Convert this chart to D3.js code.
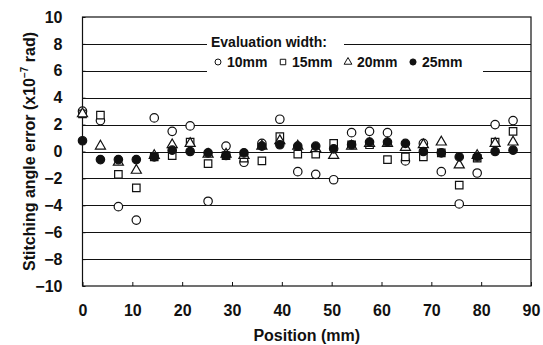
<!DOCTYPE html>
<html>
<head>
<meta charset="utf-8">
<script src="https://cdn.jsdelivr.net/npm/d3@7"></script>
<style>
  html, body { margin: 0; padding: 0; background: #fff; }
  svg { display: block; font-family: 'Liberation Sans', Arial, sans-serif; }
</style>
</head>
<body>
<svg id="chart" width="543" height="345"></svg>
<script>
// measurement positions (mm)
const positions = [0, 3.6, 7.2, 10.8, 14.4, 18, 21.6, 25.2, 28.8, 32.4, 36, 39.6, 43.2,
  46.8, 50.4, 54, 57.6, 61.2, 64.8, 68.4, 72, 75.6, 79.2, 82.8, 86.4];

// stitching angle error (x10^-7 rad) per evaluation width
const w10 = [3.0, 2.3, -4.1, -5.1, 2.5, 1.5, 1.9, -3.7, 0.4, -0.8, 0.6, 2.4, -1.5,
  -1.7, -2.1, 1.4, 1.5, 1.4, -0.7, 0.6, -1.5, -3.9, -1.6, 2.0, 2.3];
const w15 = [2.8, 2.7, -1.7, -2.7, -0.4, -0.3, 0.7, -0.9, -0.3, -0.5, -0.7, 1.1, -0.2,
  -0.2, 0.6, 0.5, 0.5, -0.6, -0.4, -0.4, -0.1, -2.5, -0.5, 0.7, 1.5];
const w20 = [2.8, 0.4, -0.8, -1.4, -0.3, 0.5, 0.6, -0.2, -0.2, -0.3, 0.4, 0.8, 0.4,
  0.2, -0.3, 0.4, 0.6, 0.6, 0.3, 0.5, 0.7, -1.0, -0.3, 0.6, 0.7];
const w25 = [0.8, -0.6, -0.6, -0.6, -0.4, 0.1, 0.0, -0.1, -0.3, -0.1, 0.4, 0.5, 0.4,
  0.4, 0.2, 0.5, 0.7, 0.7, 0.6, 0.0, -0.1, -0.4, -0.4, 0.0, 0.1];

const xTicks = [0, 10, 20, 30, 40, 50, 60, 70, 80, 90];
const yTicks = [10, 8, 6, 4, 2, 0, -2, -4, -6, -8, -10];
const seriesNames = ['10mm', '15mm', '20mm', '25mm'];

const svg = d3.select('#chart');
const margin = { top: 17, right: 12, bottom: 59, left: 82.5 };
const W = 543, H = 345;
const x = d3.scaleLinear().domain([0, 90]).range([margin.left, W - margin.right]);
const y = d3.scaleLinear().domain([-10, 10]).range([H - margin.bottom, margin.top]);

const ink = '#111';

// horizontal grid lines
svg.append('g').selectAll('line').data(yTicks.filter(v => v !== 10 && v !== -10)).enter()
  .append('line')
  .attr('x1', x(0)).attr('x2', x(90))
  .attr('y1', d => Math.round(y(d)) + 0.5).attr('y2', d => Math.round(y(d)) + 0.5)
  .attr('stroke', ink).attr('stroke-width', 1.2);

// legend boxes (white, cover the grid lines)
const lg = svg.append('g');
lg.append('rect').attr('x', 207).attr('y', 31).attr('width', 137).attr('height', 21).attr('fill', '#fff');
lg.append('rect').attr('x', 207).attr('y', 52).attr('width', 276).attr('height', 20).attr('fill', '#fff');
lg.append('text').attr('x', 211).attr('y', 47)
  .style('font-size', '14px').style('font-weight', 'bold').attr('fill', ink)
  .text('Evaluation width:');

const shapes = [
  d3.symbol().type(d3.symbolCircle).size(56)(),
  d3.symbol().type(d3.symbolSquare).size(56)(),
  d3.symbol().type(d3.symbolTriangle).size(44)(),
  d3.symbol().type(d3.symbolCircle).size(56)(),
];
const legendShapes = [
  d3.symbol().type(d3.symbolCircle).size(28)(),
  d3.symbol().type(d3.symbolSquare).size(30)(),
  d3.symbol().type(d3.symbolTriangle).size(26)(),
  d3.symbol().type(d3.symbolCircle).size(30)(),
];
const fills = ['#fff', '#fff', '#fff', ink];

seriesNames.forEach((name, i) => {
  const ex = 218 + i * 65;
  lg.append('path').attr('d', legendShapes[i])
    .attr('transform', `translate(${ex},${62})`)
    .attr('fill', fills[i]).attr('stroke', ink).attr('stroke-width', 1);
  lg.append('text').attr('x', ex + 9).attr('y', 67)
    .style('font-size', '14px').style('font-weight', 'bold').attr('fill', ink)
    .text(name);
});

// plot frame
svg.append('rect')
  .attr('x', x(0)).attr('y', y(10))
  .attr('width', x(90) - x(0)).attr('height', y(-10) - y(10))
  .attr('fill', 'none').attr('stroke', ink).attr('stroke-width', 1.2);

// axes (ticks pointing inward)
const xAxis = svg.append('g').attr('transform', `translate(0,${y(-10)})`)
  .call(d3.axisBottom(x).tickValues(xTicks).tickSize(-4).tickPadding(19).tickFormat(d3.format('d')));
xAxis.select('.domain').remove();
xAxis.selectAll('line').attr('stroke', ink);
xAxis.selectAll('text').style('font-size', '16px').style('font-weight', 'bold')
  .attr('fill', ink).attr('font-family', null);

const yAxis = svg.append('g').attr('transform', `translate(${x(0)},0)`)
  .call(d3.axisLeft(y).tickValues(yTicks).tickSize(-3).tickPadding(20)
    .tickFormat(d => d < 0 ? '\u2212' + Math.abs(d) : d));
yAxis.select('.domain').remove();
yAxis.selectAll('line').attr('stroke', ink);
yAxis.selectAll('text').style('font-size', '16px').style('font-weight', 'bold')
  .attr('fill', ink).attr('font-family', null);

// data markers, drawn series by series (10mm first, 25mm last)
[w10, w15, w20, w25].forEach((vals, i) => {
  svg.append('g').selectAll('path').data(vals).enter().append('path')
    .attr('d', shapes[i])
    .attr('transform', (d, j) => `translate(${x(positions[j])},${y(d)})`)
    .attr('fill', fills[i]).attr('stroke', ink).attr('stroke-width', 1.2);
});

// axis titles
svg.append('text').attr('x', (x(0) + x(90)) / 2).attr('y', 341)
  .attr('text-anchor', 'middle')
  .style('font-size', '16px').style('font-weight', 'bold').attr('fill', ink)
  .text('Position (mm)');

const yt = svg.append('text')
  .attr('transform', `translate(35,${(y(10) + y(-10)) / 2}) rotate(-90)`)
  .attr('text-anchor', 'middle')
  .style('font-size', '16px').style('font-weight', 'bold').attr('fill', ink);
yt.append('tspan').text('Stitching angle error (x10');
yt.append('tspan').attr('dy', -7).style('font-size', '10px').text('\u22127');
yt.append('tspan').attr('dy', 7).text(' rad)');
</script>
</body>
</html>
